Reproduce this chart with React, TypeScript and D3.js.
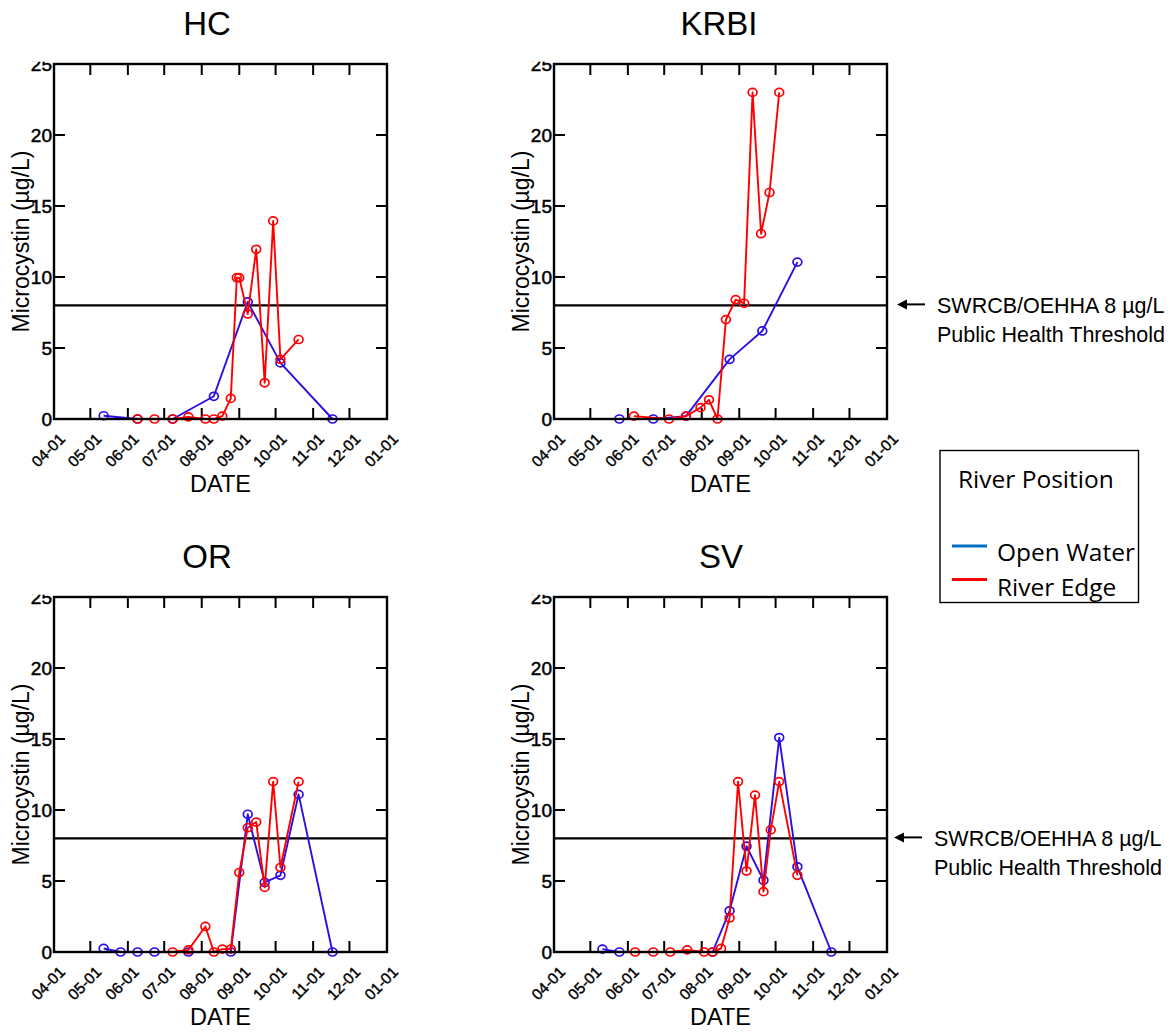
import React from "react";
import * as d3 from "d3";

type Pt = [string, number];

// ---- Data (month-day, microcystin µg/L) ----
const hcOpen: Pt[] = [["05-12", 0.23], ["06-09", 0], ["07-08", 0], ["08-11", 1.6], ["09-08", 8.25], ["10-05", 3.95], ["11-17", 0]];
const hcEdge: Pt[] = [["06-09", 0], ["06-23", 0], ["07-08", 0], ["07-21", 0.15], ["08-04", 0], ["08-11", 0], ["08-18", 0.2], ["08-25", 1.45], ["08-30", 9.95], ["09-01", 9.95], ["09-08", 7.4], ["09-15", 11.95], ["09-22", 2.55], ["09-29", 13.95], ["10-05", 4.2], ["10-20", 5.6]];

const krbiOpen: Pt[] = [["05-25", 0], ["06-22", 0], ["07-19", 0.2], ["08-24", 4.2], ["09-20", 6.2], ["10-19", 11.05]];
const krbiEdge: Pt[] = [["06-06", 0.2], ["07-05", 0], ["07-19", 0.2], ["07-31", 0.8], ["08-07", 1.35], ["08-14", 0], ["08-21", 7.0], ["08-29", 8.4], ["09-05", 8.15], ["09-12", 23.0], ["09-19", 13.05], ["09-26", 15.95], ["10-04", 23.0]];

const orOpen: Pt[] = [["05-12", 0.25], ["05-26", 0], ["06-09", 0], ["06-23", 0], ["07-21", 0], ["08-25", 0], ["09-08", 9.7], ["09-22", 4.9], ["10-05", 5.4], ["10-20", 11.1], ["11-17", 0]];
const orEdge: Pt[] = [["07-08", 0], ["07-21", 0.15], ["08-04", 1.8], ["08-11", 0], ["08-18", 0.2], ["08-25", 0.2], ["09-01", 5.6], ["09-08", 8.75], ["09-15", 9.15], ["09-22", 4.55], ["09-29", 12.0], ["10-05", 5.95], ["10-20", 12.0]];

const svOpen: Pt[] = [["05-11", 0.2], ["05-25", 0], ["08-10", 0], ["08-24", 2.9], ["09-07", 7.45], ["09-21", 5.05], ["10-04", 15.1], ["10-19", 6.0], ["11-16", 0]];
const svEdge: Pt[] = [["06-07", 0], ["06-22", 0], ["07-06", 0], ["07-20", 0.15], ["08-03", 0], ["08-10", 0], ["08-17", 0.25], ["08-24", 2.4], ["08-31", 12.0], ["09-07", 5.7], ["09-14", 11.05], ["09-21", 4.25], ["09-27", 8.6], ["10-04", 12.0], ["10-19", 5.4]];

const yTicks = [0, 5, 10, 15, 20, 25];
const monthTicks = ["04-01", "05-01", "06-01", "07-01", "08-01", "09-01", "10-01", "11-01", "12-01", "01-01"];
const threshold = 8;
const legendItems = [
  { label: "Open Water", color: "#0070C0" },
  { label: "River Edge", color: "#FF0000" },
];
const annotationLines = ["SWRCB/OEHHA 8 µg/L", "Public Health Threshold"];

const OPEN_COLOR = "#2a0fe0";
const EDGE_COLOR = "#ff0000";
const YEAR = 2017;

const toDate = (md: string) => {
  const [m, d] = md.split("-").map(Number);
  return new Date(m === 1 ? YEAR + 1 : YEAR, m - 1, d);
};

const PW = 333;
const PH = 355;

const panels = [
  { name: "HC", x0: 54, y0: 64, titleX: 207, open: hcOpen, edge: hcEdge, note: null as null | { ax: number; tx: number } },
  { name: "KRBI", x0: 554, y0: 64, titleX: 719, open: krbiOpen, edge: krbiEdge, note: { ax: 897, tx: 937 } },
  { name: "OR", x0: 54, y0: 597, titleX: 207, open: orOpen, edge: orEdge, note: null as null | { ax: number; tx: number } },
  { name: "SV", x0: 554, y0: 597, titleX: 721, open: svOpen, edge: svEdge, note: { ax: 894, tx: 934 } },
];

const FONT = "'Liberation Sans', Arial, sans-serif";
const LEGEND_FONT = "'Open Sans', sans-serif";

function Panel({ p, idx }: { p: (typeof panels)[number]; idx: number }) {
  const x = d3.scaleTime().domain([toDate("04-01"), toDate("01-01")]).range([p.x0, p.x0 + PW]);
  const y = d3.scaleLinear().domain([0, 25]).range([p.y0 + PH, p.y0]);
  const line = d3
    .line<Pt>()
    .x((d) => x(toDate(d[0])))
    .y((d) => y(d[1]));
  const bottom = p.y0 + PH;
  const right = p.x0 + PW;
  const clipId = `lblclip${idx}`;
  const series = [
    { data: p.open, color: OPEN_COLOR },
    { data: p.edge, color: EDGE_COLOR },
  ];
  return (
    <g>
      <text x={p.titleX} y={p.y0 - 29} fontFamily={FONT} fontSize={33} textAnchor="middle">
        {p.name}
      </text>
      <text
        transform={`translate(${p.x0 - 25},${p.y0 + PH / 2}) rotate(-90)`}
        fontFamily={FONT}
        fontSize={23}
        textAnchor="middle"
      >
        Microcystin (µg/L)
      </text>
      <text x={p.x0 + PW / 2} y={bottom + 73} fontFamily={FONT} fontSize={23.5} textAnchor="middle">
        DATE
      </text>
      <defs>
        <clipPath id={clipId}>
          <rect x={p.x0 - 60} y={p.y0 - 2.3} width={60} height={PH + 30} />
        </clipPath>
      </defs>
      {/* y tick labels */}
      <g clipPath={`url(#${clipId})`}>
        {yTicks.map((t) => (
          <text
            key={t}
            x={p.x0 - 2}
            y={y(t) + 6.8}
            fontFamily={FONT}
            fontSize={19}
            textAnchor="end"
            stroke="#000"
            strokeWidth={0.5}
          >
            {t}
          </text>
        ))}
      </g>
      {yTicks.map((t) => (
        <g key={"yt" + t} stroke="#000" strokeWidth={2}>
          <line x1={p.x0} x2={p.x0 + 11} y1={y(t)} y2={y(t)} />
          <line x1={right - 11} x2={right} y1={y(t)} y2={y(t)} />
        </g>
      ))}
      {monthTicks.map((m) => {
        const tx = x(toDate(m));
        return (
          <g key={"xt" + m}>
            <line x1={tx} x2={tx} y1={bottom} y2={bottom - 11} stroke="#000" strokeWidth={2} />
            <line x1={tx} x2={tx} y1={p.y0} y2={p.y0 + 11} stroke="#000" strokeWidth={2} />
            <text
              transform={`translate(${tx + 12},${bottom + 21}) rotate(-45)`}
              fontFamily={FONT}
              fontSize={15.5}
              textAnchor="end"
              stroke="#000"
              strokeWidth={0.4}
            >
              {m}
            </text>
          </g>
        );
      })}
      {/* threshold */}
      <line x1={p.x0} x2={right} y1={y(threshold)} y2={y(threshold)} stroke="#000" strokeWidth={2.2} />
      {/* series */}
      {series.map((s, i) => (
        <g key={"s" + i}>
          <path d={line(s.data) || ""} fill="none" stroke={s.color} strokeWidth={1.9} strokeLinejoin="round" />
          {s.data.map((d, j) => (
            <ellipse
              key={j}
              cx={x(toDate(d[0]))}
              cy={y(d[1])}
              rx={4.4}
              ry={4}
              fill="none"
              stroke={s.color}
              strokeWidth={1.7}
            />
          ))}
        </g>
      ))}
      {/* frame */}
      <rect x={p.x0} y={p.y0} width={PW} height={PH} fill="none" stroke="#000" strokeWidth={2.4} />
      {p.note && (
        <g>
          <line x1={p.note.ax + 8} x2={p.note.ax + 28} y1={y(threshold) - 1} y2={y(threshold) - 1} stroke="#000" strokeWidth={2} />
          <polygon
            points={`${p.note.ax},${y(threshold) - 1} ${p.note.ax + 10},${y(threshold) - 6} ${p.note.ax + 10},${y(threshold) + 4}`}
            fill="#000"
          />
          {annotationLines.map((t, i) => (
            <text key={t} x={p.note!.tx} y={y(threshold) + 7.5 + i * 28.7} fontFamily={FONT} fontSize={21.5}>
              {t}
            </text>
          ))}
        </g>
      )}
    </g>
  );
}

export default function App() {
  return (
    <svg
      width={1176}
      height={1032}
      style={{ position: "absolute", left: 0, top: 0, display: "block", background: "#fff" }}
    >
      <rect x={0} y={0} width={1176} height={1032} fill="#fff" />
      {panels.map((p, i) => (
        <Panel key={p.name} p={p} idx={i} />
      ))}
      {/* legend */}
      <g>
        <rect x={940} y={450.5} width={198.5} height={152} fill="#fff" stroke="#000" strokeWidth={1.4} />
        <text x={958} y={488} fontFamily={LEGEND_FONT} fontSize={24.5}>
          River Position
        </text>
        {legendItems.map((it, i) => (
          <g key={it.label}>
            <line x1={952} x2={987} y1={546 + i * 33.5} y2={546 + i * 33.5} stroke={it.color} strokeWidth={3.2} />
            <text x={997} y={561 + i * 34.5} fontFamily={LEGEND_FONT} fontSize={24.5}>
              {it.label}
            </text>
          </g>
        ))}
      </g>
    </svg>
  );
}
